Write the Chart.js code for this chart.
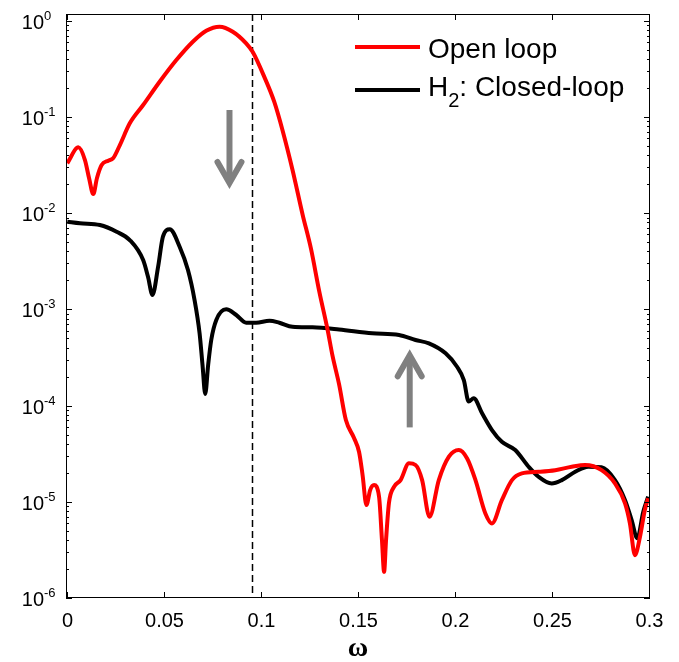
<!DOCTYPE html>
<html lang="en">
<head>
<meta charset="UTF-8">
<title>Open loop vs H2 closed-loop</title>
<style>
  body { margin: 0; background: #fff; }
  #wrap { width: 679px; height: 662px; }
</style>
<script src="https://cdn.jsdelivr.net/npm/chart.js"></script>
</head>
<body>
<div id="wrap"><canvas id="chart" width="679" height="662"></canvas></div>
<script>
// open loop response (red)
const omegaOpen = [0, 0.0057, 0.0091, 0.0112, 0.0134, 0.0153, 0.0177, 0.0211, 0.0236, 0.0271,
  0.0322, 0.0391, 0.0476, 0.0562, 0.0647, 0.0716, 0.0785, 0.0853, 0.0922, 0.0956,
  0.1016, 0.1067, 0.1110, 0.1161, 0.1213, 0.1256, 0.1299, 0.1341, 0.1367, 0.1401,
  0.1436, 0.1478, 0.1504, 0.1522, 0.1542, 0.1561, 0.1581, 0.1607, 0.1622, 0.1633,
  0.1643, 0.1658, 0.1684, 0.1718, 0.1761, 0.1795, 0.1829, 0.1867, 0.1915, 0.1967,
  0.2018, 0.2061, 0.2104, 0.2155, 0.2189, 0.2240, 0.2292, 0.2343, 0.2429, 0.2515,
  0.2600, 0.2669, 0.2754, 0.2823, 0.2875, 0.2900, 0.2926, 0.2952, 0.2977, 0.2994];
const magOpen = [0.0330, 0.0483, 0.0356, 0.0232, 0.0158, 0.0232, 0.0316, 0.0351, 0.0371, 0.0510,
  0.0858, 0.133, 0.232, 0.390, 0.605, 0.787, 0.867, 0.769, 0.582, 0.472,
  0.259, 0.143, 0.0719, 0.0281, 0.00964, 0.00427, 0.00153, 0.000624, 0.000330, 0.000166,
  7.07e-5, 4.60e-5, 3.29e-5, 1.90e-5, 9.25e-6, 1.32e-5, 1.49e-5, 1.13e-5, 4.0e-6, 1.87e-6,
  4.0e-6, 9.7e-6, 1.43e-5, 1.68e-5, 2.51e-5, 2.41e-5, 1.68e-5, 6.98e-6, 1.68e-5, 2.94e-5,
  3.45e-5, 2.82e-5, 1.68e-5, 7.57e-6, 5.96e-6, 1.04e-5, 1.68e-5, 1.97e-5, 2.05e-5, 2.13e-5,
  2.31e-5, 2.41e-5, 2.13e-5, 1.55e-5, 9.62e-6, 5.96e-6, 2.79e-6, 4.33e-6, 8.20e-6, 1.09e-5];

// H2 closed loop response (black)
const omegaClosed = [0, 0.0065, 0.0168, 0.0254, 0.0322, 0.0391, 0.0416, 0.0439, 0.0468, 0.0493,
  0.0528, 0.0579, 0.0622, 0.0656, 0.0682, 0.0697, 0.0711, 0.0726, 0.0742, 0.0768,
  0.0819, 0.0871, 0.0922, 0.0973, 0.1042, 0.1093, 0.1161, 0.1264, 0.1401, 0.1572,
  0.1710, 0.1795, 0.1864, 0.1950, 0.2009, 0.2044, 0.2069, 0.2095, 0.2138, 0.2189,
  0.2240, 0.2309, 0.2378, 0.2429, 0.2497, 0.2549, 0.2618, 0.2686, 0.2754, 0.2823,
  0.2875, 0.2909, 0.2938, 0.2969, 0.2994];
const magClosed = [0.00814, 0.00784, 0.00752, 0.00641, 0.00525, 0.00325, 0.00218, 0.00141, 0.00277, 0.00569,
  0.00679, 0.00448, 0.00256, 0.00125, 0.000562, 0.000264, 0.000132, 0.000264, 0.000480, 0.000774,
  0.00100, 0.000873, 0.000726, 0.000726, 0.000761, 0.000726, 0.000659, 0.000650, 0.000617, 0.000563,
  0.000541, 0.000480, 0.000443, 0.000349, 0.000253, 0.000184, 0.000110, 0.000119, 8.30e-5, 5.56e-5,
  4.20e-5, 3.45e-5, 2.31e-5, 1.82e-5, 1.55e-5, 1.68e-5, 2.05e-5, 2.31e-5, 2.28e-5, 1.68e-5,
  1.04e-5, 6.45e-6, 4.17e-6, 7.87e-6, 1.13e-5];

const xTicks = [0, 0.05, 0.1, 0.15, 0.2, 0.25, 0.3];
const xTickLabels = ['0', '0.05', '0.1', '0.15', '0.2', '0.25', '0.3'];
const yExponents = [0, -1, -2, -3, -4, -5, -6];
const cutoffOmega = 0.095;
// gray arrows: [omega, from, to]
const arrows = [[0.0836, 0.118, 0.0196], [0.1765, 5.93e-5, 3.49e-4]];

const FONT = "'Liberation Sans', Arial, sans-serif";

function toPoints(xs, ys) {
  return xs.map((x, i) => ({ x: x, y: ys[i] }));
}

const decor = {
  id: 'decor',
  beforeDatasetsDraw(chart) {
    const { ctx, chartArea: a, scales: { x } } = chart;
    const px = Math.round(x.getPixelForValue(cutoffOmega)) + 0.5;
    ctx.save();
    ctx.strokeStyle = '#000';
    ctx.lineWidth = 1.5;
    ctx.setLineDash([7, 4]);
    ctx.beginPath();
    ctx.moveTo(px, a.top);
    ctx.lineTo(px, a.bottom);
    ctx.stroke();
    ctx.restore();
  },
  afterDraw(chart) {
    const { ctx, chartArea: a, scales: { x, y } } = chart;
    ctx.save();
    ctx.strokeStyle = '#000';
    ctx.fillStyle = '#000';
    ctx.lineWidth = 1;

    // box
    ctx.strokeRect(a.left + 0.5, a.top + 0.5, a.right - a.left - 1, a.bottom - a.top - 1);

    // x ticks + labels
    ctx.font = '20px ' + FONT;
    ctx.textAlign = 'center';
    ctx.textBaseline = 'middle';
    xTicks.forEach((t, i) => {
      const px = Math.round(x.getPixelForValue(t)) + 0.5;
      ctx.beginPath();
      ctx.moveTo(px, a.bottom); ctx.lineTo(px, a.bottom - 6);
      ctx.moveTo(px, a.top); ctx.lineTo(px, a.top + 6);
      ctx.stroke();
      ctx.fillText(xTickLabels[i], px, a.bottom + 23);
    });

    // y ticks (major + minor) + labels
    yExponents.forEach(e => {
      const base = Math.pow(10, e);
      const py = Math.round(y.getPixelForValue(base)) + 0.5;
      ctx.beginPath();
      ctx.moveTo(a.left, py); ctx.lineTo(a.left + 6, py);
      ctx.moveTo(a.right, py); ctx.lineTo(a.right - 6, py);
      ctx.stroke();
      for (let m = 2; m <= 9; m++) {
        const v = base * m;
        if (v > y.max) break;
        const pm = Math.round(y.getPixelForValue(v)) + 0.5;
        ctx.beginPath();
        ctx.moveTo(a.left, pm); ctx.lineTo(a.left + 3, pm);
        ctx.moveTo(a.right, pm); ctx.lineTo(a.right - 3, pm);
        ctx.stroke();
      }
      ctx.font = '20px ' + FONT;
      ctx.textAlign = 'right';
      ctx.fillText('10', a.left - 22, py + 2);
      ctx.font = '13px ' + FONT;
      ctx.textAlign = 'left';
      ctx.fillText(String(e), a.left - 22, py - 5);
    });

    // axis label
    ctx.font = 'bold 28px "Liberation Serif", serif';
    ctx.textAlign = 'center';
    ctx.fillText('\u03c9', (a.left + a.right) / 2, a.bottom + 51);

    // arrows
    ctx.strokeStyle = '#808080';
    ctx.lineWidth = 6;
    arrows.forEach(([w, from, to]) => {
      const px = x.getPixelForValue(w);
      const p0 = y.getPixelForValue(from);
      const p1 = y.getPixelForValue(to);
      const dir = p1 > p0 ? 1 : -1;
      ctx.lineCap = 'butt';
      ctx.beginPath();
      ctx.moveTo(px, p0); ctx.lineTo(px, p1 - dir * 3);
      ctx.stroke();
      ctx.lineCap = 'round';
      ctx.lineJoin = 'miter';
      ctx.beginPath();
      ctx.moveTo(px - 12, p1 - dir * 23);
      ctx.lineTo(px, p1 - dir * 2);
      ctx.lineTo(px + 12, p1 - dir * 23);
      ctx.stroke();
    });

    // legend
    const lx = a.right - 295;
    const ds = chart.data.datasets;
    ctx.lineCap = 'butt';
    ctx.lineWidth = 4;
    ctx.textAlign = 'left';
    ctx.textBaseline = 'middle';
    [47, 90].forEach((ly, i) => {
      ctx.strokeStyle = ds[i].borderColor;
      ctx.beginPath();
      ctx.moveTo(lx, ly); ctx.lineTo(lx + 65, ly);
      ctx.stroke();
    });
    ctx.fillStyle = '#000';
    ctx.font = '28px ' + FONT;
    ctx.fillText('Open loop', lx + 73, 50);
    ctx.fillText('H', lx + 73, 88);
    let tx = lx + 73 + ctx.measureText('H').width;
    ctx.font = '20px ' + FONT;
    ctx.fillText('2', tx, 101);
    tx += ctx.measureText('2').width;
    ctx.font = '28px ' + FONT;
    ctx.fillText(': Closed-loop', tx, 88);
    ctx.restore();
  }
};

new Chart(document.getElementById('chart'), {
  type: 'line',
  data: {
    datasets: [
      {
        label: 'Open loop',
        data: toPoints(omegaOpen, magOpen),
        borderColor: '#ff0000',
        borderWidth: 4,
        pointRadius: 0,
        cubicInterpolationMode: 'monotone',
        fill: false
      },
      {
        label: 'H2: Closed-loop',
        data: toPoints(omegaClosed, magClosed),
        borderColor: '#000000',
        borderWidth: 4,
        pointRadius: 0,
        cubicInterpolationMode: 'monotone',
        fill: false
      }
    ]
  },
  options: {
    responsive: false,
    animation: false,
    devicePixelRatio: 1,
    layout: { padding: { left: 66, right: 29, top: 14, bottom: 64 } },
    plugins: { legend: { display: false }, tooltip: { enabled: false } },
    scales: {
      x: { type: 'linear', min: -0.00067, max: 0.30036, display: false },
      y: { type: 'logarithmic', min: 1e-6, max: 1.174, display: false }
    }
  },
  plugins: [decor]
});
</script>
</body>
</html>
